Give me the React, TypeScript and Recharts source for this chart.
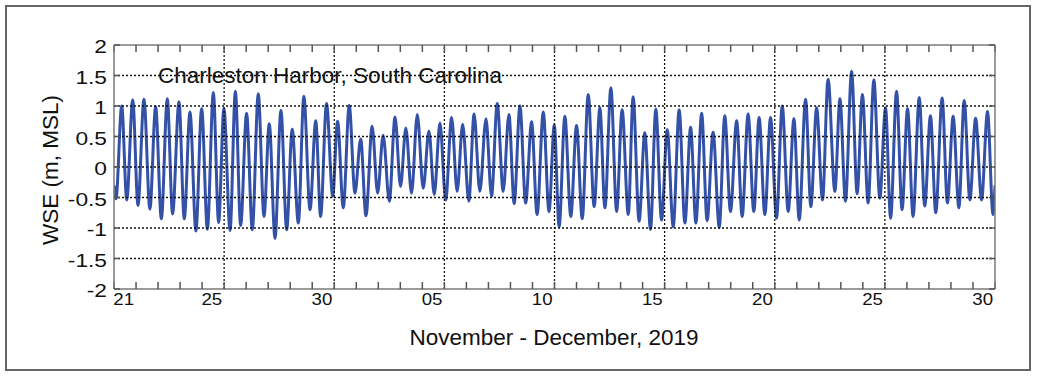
import React from 'react';
import { LineChart, Line, XAxis, YAxis, ReferenceLine } from 'recharts';

// Time of each high / low water, in days since 2019-11-20 00:00
const EXTREME_DAYS = [
  0.00, 0.09, 0.35, 0.58, 0.85, 1.09, 1.36, 1.63, 1.89, 2.15,
  2.42, 2.66, 2.95, 3.19, 3.45, 3.72, 3.98, 4.24, 4.51, 4.75,
  4.99, 5.27, 5.51, 5.75, 6.02, 6.28, 6.55, 6.81, 7.05, 7.31,
  7.58, 7.84, 8.09, 8.37, 8.62, 8.90, 9.16, 9.38, 9.65, 9.93,
  10.15, 10.41, 10.68, 10.94, 11.20, 11.44, 11.72, 11.97, 12.22, 12.50,
  12.76, 13.01, 13.25, 13.51, 13.77, 14.04, 14.30, 14.54, 14.80, 15.06,
  15.33, 15.58, 15.83, 16.11, 16.35, 16.61, 16.89, 17.14, 17.40, 17.67,
  17.93, 18.17, 18.43, 18.69, 18.96, 19.21, 19.49, 19.75, 19.99, 20.21,
  20.47, 20.74, 21.00, 21.26, 21.53, 21.80, 22.06, 22.29, 22.56, 22.82,
  23.07, 23.35, 23.57, 23.84, 24.10, 24.36, 24.60, 24.86, 25.12, 25.39,
  25.66, 25.92, 26.18, 26.42, 26.68, 26.93, 27.20, 27.48, 27.73, 27.99,
  28.27, 28.52, 28.79, 29.05, 29.29, 29.55, 29.81, 30.08, 30.34, 30.61,
  30.87, 31.11, 31.40, 31.64, 31.90, 32.17, 32.42, 32.73, 32.96, 33.21,
  33.49, 33.74, 33.98, 34.24, 34.50, 34.77, 35.03, 35.26, 35.53, 35.78,
  36.03, 36.28, 36.56, 36.81, 37.07, 37.31, 37.60, 37.84, 38.10, 38.36,
  38.60, 38.86, 39.12, 39.39, 39.66, 39.91, 40.00,
];

// Water surface elevation (m, MSL) at those times
const WSE = [
  -0.30, -0.52, 1.00, -0.54, 1.10, -0.63, 1.11, -0.69, 0.99, -0.85,
  1.12, -0.77, 1.07, -0.85, 0.90, -1.05, 0.96, -1.02, 1.22, -0.91,
  0.96, -1.04, 1.24, -0.96, 0.88, -1.03, 1.20, -0.81, 0.71, -1.17,
  0.93, -1.03, 0.62, -0.92, 1.16, -0.70, 0.76, -0.81, 1.04, -0.48,
  0.75, -0.67, 1.01, -0.43, 0.46, -0.80, 0.67, -0.43, 0.52, -0.56,
  0.82, -0.32, 0.64, -0.43, 0.86, -0.35, 0.59, -0.45, 0.72, -0.54,
  0.81, -0.40, 0.70, -0.56, 0.87, -0.40, 0.79, -0.48, 1.04, -0.40,
  0.86, -0.60, 1.00, -0.59, 0.74, -0.78, 0.90, -0.73, 0.69, -0.98,
  0.83, -0.81, 0.68, -0.85, 1.19, -0.65, 0.97, -0.67, 1.30, -0.73,
  0.94, -0.78, 1.15, -0.89, 0.56, -1.02, 0.95, -0.87, 0.61, -0.98,
  0.94, -0.92, 0.65, -0.92, 0.88, -0.88, 0.57, -0.99, 0.84, -0.73,
  0.76, -0.81, 0.87, -0.73, 0.81, -0.78, 0.81, -0.84, 1.00, -0.73,
  0.79, -0.87, 1.11, -0.65, 0.97, -0.54, 1.44, -0.40, 1.12, -0.56,
  1.57, -0.44, 1.19, -0.59, 1.43, -0.51, 0.97, -0.84, 1.24, -0.70,
  0.96, -0.81, 1.14, -0.64, 0.84, -0.75, 1.13, -0.59, 0.83, -0.67,
  1.09, -0.54, 0.80, -0.54, 0.91, -0.78, -0.30,
];

const DAY_TICKS = Array.from({ length: 41 }, (_, i) => i);
const LABEL_DAYS = [1, 5, 10, 15, 20, 25, 30, 35, 40];
const LABEL_TEXT = ['21', '25', '30', '05', '10', '15', '20', '25', '30'];
const GRID_DAYS = [5, 10, 15, 20, 25, 30, 35];
const Y_TICKS = [-2, -1.5, -1, -0.5, 0, 0.5, 1, 1.5, 2];
const Y_TICK_TEXT = ['-2', '-1.5', '-1', '-0.5', '0', '0.5', '1', '1.5', '2'];
const Y_GRID = [-1.5, -1, -0.5, 0, 0.5, 1, 1.5];

const TITLE = 'Charleston Harbor, South Carolina';
const X_LABEL = 'November - December, 2019';
const Y_LABEL = 'WSE (m, MSL)';

const data = EXTREME_DAYS.map((t, i) => ({ t, wse: WSE[i] }));

const W = 1037;
const H = 376;
const M = { top: 45, right: 42, bottom: 87, left: 114 };
const PLOT_BOTTOM = H - M.bottom;
const FONT = '"Liberation Sans", Arial, Helvetica, sans-serif';
const FRAME = '#7a7a7a';
const GRID = '#111';

const XTick = (props: any) => {
  const v = props.payload?.value;
  const idx = LABEL_DAYS.indexOf(v);
  if (idx < 0) return <g />;
  const x = props.x - 12.3;
  const y = PLOT_BOTTOM + 16;
  return (
    <text
      x={0}
      y={0}
      transform={`translate(${x},${y}) scale(1.1,1)`}
      textAnchor="middle"
      fontFamily={FONT}
      fontSize={17}
      fill="#111"
    >
      {LABEL_TEXT[idx]}
    </text>
  );
};

const YTick = (props: any) => {
  const v = props.payload?.value;
  const idx = Y_TICKS.indexOf(v);
  if (idx < 0) return <g />;
  const x = M.left - 7;
  const y = props.y + 8;
  return (
    <text
      x={0}
      y={0}
      transform={`translate(${x},${y}) scale(1.3,1)`}
      textAnchor="end"
      fontFamily={FONT}
      fontSize={17.5}
      fill="#111"
    >
      {Y_TICK_TEXT[idx]}
    </text>
  );
};

const NoTick = () => <g />;

export default function App() {
  return (
    <div style={{ position: 'absolute', left: 0, top: 0, width: W, height: H, background: '#fff' }}>
      <div
        style={{
          position: 'absolute',
          left: 5,
          top: 5,
          width: 1022,
          height: 362,
          border: '2px solid #666',
        }}
      />
      <div style={{ position: 'absolute', left: 0, top: 0 }}>
        <LineChart width={W} height={H} data={data} margin={M}>
          <XAxis
            xAxisId="b"
            dataKey="t"
            type="number"
            domain={[0, 40]}
            ticks={DAY_TICKS}
            interval={0}
            mirror
            tickSize={7}
            tickMargin={0}
            axisLine={{ stroke: FRAME, strokeWidth: 1.5 }}
            tickLine={{ stroke: '#555', strokeWidth: 1.5 }}
            tick={<XTick />}
            allowDataOverflow
          />
          <XAxis
            xAxisId="t"
            orientation="top"
            dataKey="t"
            type="number"
            domain={[0, 40]}
            ticks={DAY_TICKS}
            interval={0}
            mirror
            tickSize={7}
            tickMargin={0}
            axisLine={{ stroke: FRAME, strokeWidth: 1.5 }}
            tickLine={{ stroke: '#555', strokeWidth: 1.5 }}
            tick={<NoTick />}
            allowDataOverflow
          />
          <YAxis
            yAxisId="l"
            type="number"
            domain={[-2, 2]}
            ticks={Y_TICKS}
            interval={0}
            mirror
            tickSize={6}
            tickMargin={0}
            axisLine={{ stroke: FRAME, strokeWidth: 1.5 }}
            tickLine={{ stroke: '#555', strokeWidth: 1.5 }}
            tick={<YTick />}
            allowDataOverflow
          />
          <YAxis
            yAxisId="r"
            orientation="right"
            type="number"
            domain={[-2, 2]}
            ticks={Y_TICKS}
            interval={0}
            mirror
            tickSize={6}
            tickMargin={0}
            axisLine={{ stroke: FRAME, strokeWidth: 1.5 }}
            tickLine={{ stroke: '#555', strokeWidth: 1.5 }}
            tick={<NoTick />}
            allowDataOverflow
          />
          <Line
            xAxisId="b"
            yAxisId="l"
            type="monotone"
            dataKey="wse"
            stroke="#3451a8"
            strokeWidth={3}
            dot={false}
            isAnimationActive={false}
          />
          {Y_GRID.map((v) => (
            <ReferenceLine
              key={`h${v}`}
              xAxisId="b"
              yAxisId="l"
              y={v}
              stroke={GRID}
              strokeWidth={1.3}
              strokeDasharray="2 2"
            />
          ))}
          {GRID_DAYS.map((d) => (
            <ReferenceLine
              key={`v${d}`}
              xAxisId="b"
              yAxisId="l"
              x={d}
              stroke={GRID}
              strokeWidth={1.3}
              strokeDasharray="2 2"
            />
          ))}
        </LineChart>
      </div>
      <svg
        width={W}
        height={H}
        style={{ position: 'absolute', left: 0, top: 0, pointerEvents: 'none' }}
      >
        <text x={158} y={83} fontFamily={FONT} fontSize={22.5} fill="#111">
          {TITLE}
        </text>
        <text x={554} y={345} textAnchor="middle" fontFamily={FONT} fontSize={22.5} fill="#111">
          {X_LABEL}
        </text>
        <text
          x={0}
          y={0}
          transform="translate(58,170) rotate(-90)"
          textAnchor="middle"
          fontFamily={FONT}
          fontSize={22.5}
          fill="#111"
        >
          {Y_LABEL}
        </text>
      </svg>
    </div>
  );
}
